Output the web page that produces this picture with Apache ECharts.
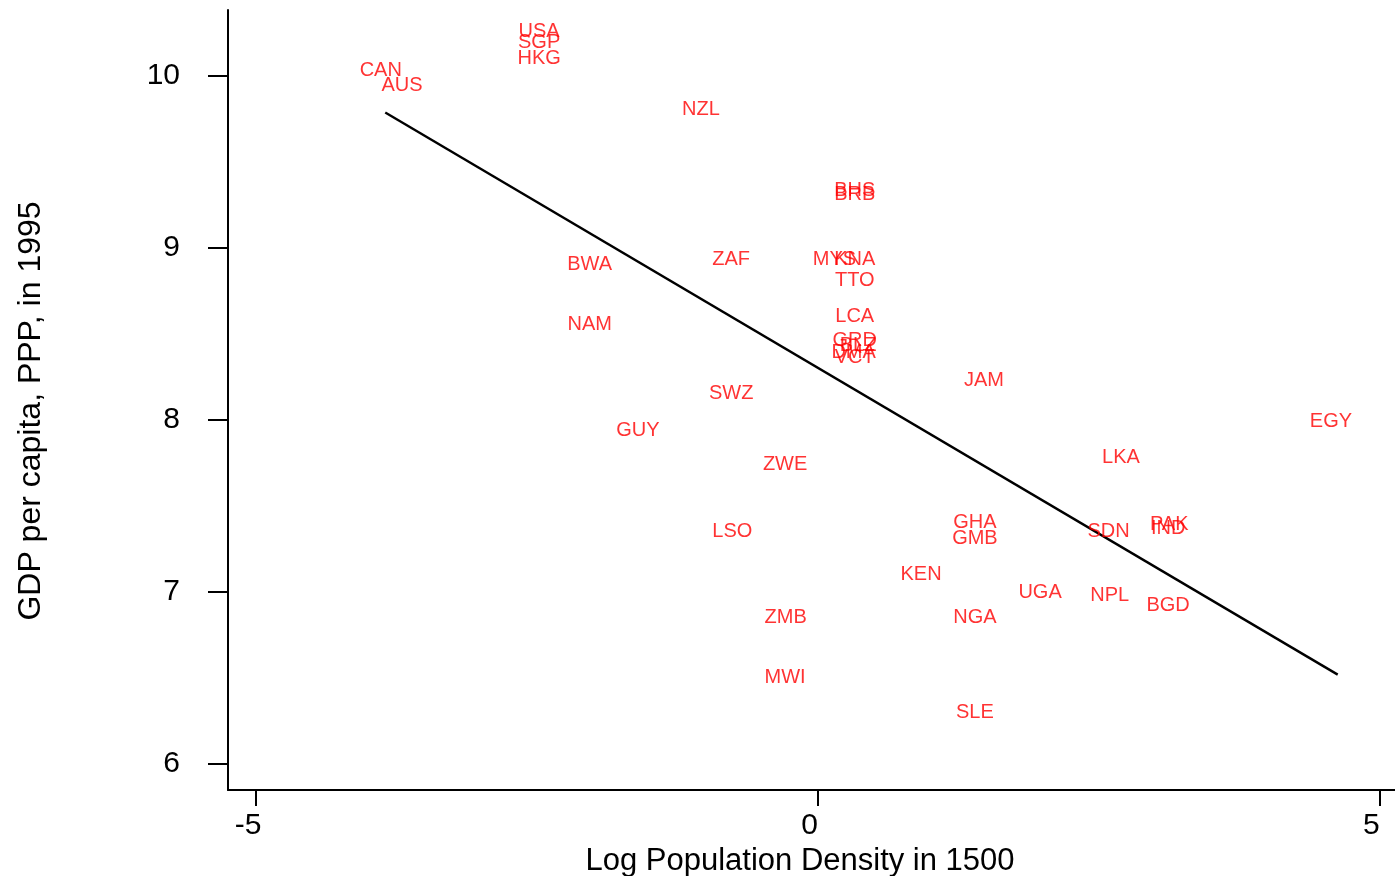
<!DOCTYPE html>
<html>
<head>
<meta charset="utf-8">
<title>Log Population Density in 1500 vs GDP per capita 1995</title>
<script src="https://cdn.jsdelivr.net/npm/echarts@6/dist/echarts.min.js"></script>
<style>
  html, body { margin: 0; padding: 0; background: #ffffff; }
  #chart { width: 1395px; height: 876px; }
</style>
</head>
<body>
<div id="chart"></div>
<script>
// Country codes, log population density in 1500, log GDP per capita (PPP) in 1995
var countries = ['USA','SGP','HKG','CAN','AUS','NZL','BHS','BRB','MYS','KNA','ZAF','BWA','TTO','LCA','GRD','BLZ','DMA','VCT','NAM','SWZ','JAM','GUY','EGY','ZWE','LKA','LSO','GHA','GMB','SDN','PAK','IND','KEN','UGA','NPL','BGD','ZMB','NGA','MWI','SLE'];
var logDensity1500 = [-2.48,-2.48,-2.48,-3.89,-3.70,-1.04,0.33,0.33,0.15,0.33,-0.77,-2.03,0.33,0.33,0.33,0.36,0.32,0.33,-2.03,-0.77,1.48,-1.60,4.57,-0.29,2.70,-0.76,1.40,1.40,2.59,3.13,3.12,0.92,1.98,2.60,3.12,-0.285,1.40,-0.29,1.40];
var logGdp1995 = [10.255,10.19,10.10,10.03,9.94,9.80,9.33,9.31,8.93,8.93,8.93,8.90,8.81,8.60,8.46,8.43,8.39,8.36,8.555,8.15,8.23,7.94,7.99,7.74,7.78,7.35,7.405,7.31,7.35,7.39,7.37,7.10,7.00,6.98,6.92,6.85,6.85,6.505,6.30];

// Fitted regression line (endpoints)
var fitX = [-3.85, 4.63];
var fitY = [9.785, 6.52];

// Tick values
var xTicks = [-5, 0, 5];
var yTicks = [6, 7, 8, 9, 10];

var FONT = "'Liberation Sans', Arial, Helvetica, sans-serif";

var points = countries.map(function (c, i) {
  return { value: [logDensity1500[i], logGdp1995[i]], name: c };
});
var fitLine = fitX.map(function (x, i) { return [x, fitY[i]]; });

var chart = echarts.init(document.getElementById('chart'), null, { renderer: 'canvas' });

var axisLineStyle = { color: '#000', width: 2 };

chart.setOption({
  backgroundColor: '#ffffff',
  animation: false,
  grid: { left: 228, right: 0, top: 10, bottom: 86, containLabel: false, outerBoundsMode: 'none' },
  xAxis: {
    type: 'value',
    min: -5.25,
    max: 5.14,
    name: 'Log Population Density in 1500',
    nameLocation: 'middle',
    nameGap: 45,
    nameTextStyle: { fontFamily: FONT, fontSize: 31, color: '#000', padding: [0, 23, 0, 0] },
    axisLine: { show: true, onZero: false, lineStyle: axisLineStyle },
    axisTick: { show: true, length: 16, lineStyle: axisLineStyle, customValues: xTicks },
    axisLabel: {
      fontFamily: FONT, fontSize: 30, color: '#000', margin: 21,
      padding: [0, 16, 0, 0],
      customValues: xTicks,
      formatter: function (v) { return String(v); }
    },
    splitLine: { show: false }
  },
  yAxis: {
    type: 'value',
    min: 5.85,
    max: 10.38,
    name: 'GDP per capita, PPP, in 1995',
    nameLocation: 'middle',
    nameGap: 181,
    nameRotate: 90,
    nameTextStyle: { fontFamily: FONT, fontSize: 32, color: '#000', padding: [0, 22, 0, 0] },
    axisLine: { show: true, onZero: false, lineStyle: axisLineStyle },
    axisTick: { show: true, length: 20, lineStyle: axisLineStyle, customValues: yTicks },
    axisLabel: {
      fontFamily: FONT, fontSize: 30, color: '#000', margin: 48,
      customValues: yTicks,
      formatter: function (v) { return String(v); }
    },
    splitLine: { show: false }
  },
  series: [
    {
      type: 'line',
      data: fitLine,
      symbol: 'none',
      lineStyle: { color: '#000', width: 2.4 },
      z: 2
    },
    {
      type: 'scatter',
      data: points,
      symbolSize: 1,
      itemStyle: { color: 'rgba(0,0,0,0)' },
      label: {
        show: true,
        position: 'inside',
        formatter: function (p) { return p.name; },
        fontFamily: FONT,
        fontSize: 20,
        color: '#ff0000'
      },
      emphasis: { disabled: true },
      z: 3
    }
  ]
});
</script>
</body>
</html>
